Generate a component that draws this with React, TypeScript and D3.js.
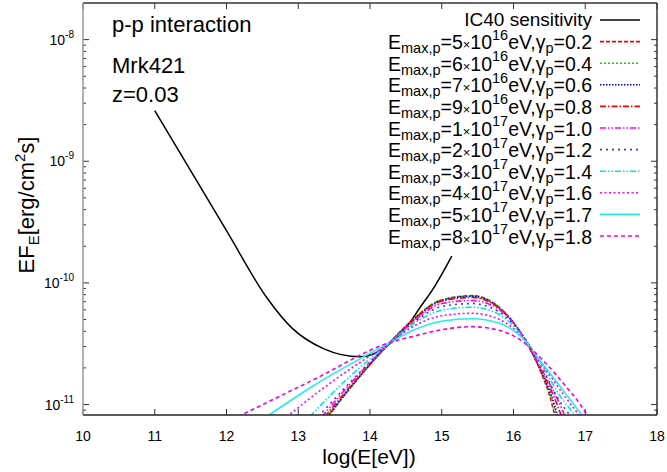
import React from 'react';
import * as d3 from 'd3';

const W = 667, H = 472;
const X0 = 83, X1 = 657, Y0 = 3, Y1 = 415;

const xTicks = [10, 11, 12, 13, 14, 15, 16, 17, 18];
const yTickExps = [-11, -10, -9, -8];

// [log10(E/eV), log10(EF_E)]
const ic40: [number, number][] = [[11.0,-8.584],[12.0,-9.57],[12.56,-10.12],[12.91,-10.37],[13.35,-10.54],[13.86,-10.607],[14.1,-10.57],[14.3,-10.49],[14.5,-10.37],[14.7,-10.20],[14.9,-10.03],[15.14,-9.78]];
const s02: [number, number][] = [[13.42,-11.10],[13.7,-10.88],[14.0,-10.67],[14.28,-10.49],[14.6,-10.30],[15.0,-10.14],[15.42,-10.105],[15.8,-10.20],[16.1,-10.41],[16.27,-10.57],[16.4,-10.76],[16.5,-10.92],[16.58,-11.10]];
const s04: [number, number][] = [[13.41,-11.10],[13.8,-10.81],[14.28,-10.49],[14.6,-10.30],[15.0,-10.14],[15.42,-10.11],[15.8,-10.20],[16.1,-10.41],[16.4,-10.755],[16.52,-10.93],[16.60,-11.10]];
const s06: [number, number][] = [[13.40,-11.10],[13.8,-10.81],[14.28,-10.49],[14.6,-10.305],[15.0,-10.145],[15.42,-10.11],[15.8,-10.205],[16.1,-10.41],[16.4,-10.75],[16.53,-10.93],[16.62,-11.10]];
const s08: [number, number][] = [[13.37,-11.10],[13.8,-10.80],[14.28,-10.49],[14.6,-10.31],[15.0,-10.15],[15.42,-10.12],[15.8,-10.21],[16.1,-10.41],[16.4,-10.74],[16.56,-10.93],[16.67,-11.10]];
const s10: [number, number][] = [[13.33,-11.10],[13.8,-10.78],[14.28,-10.49],[14.6,-10.32],[15.0,-10.17],[15.42,-10.145],[15.8,-10.22],[16.1,-10.41],[16.4,-10.72],[16.6,-10.94],[16.72,-11.10]];
const s12: [number, number][] = [[13.28,-11.10],[13.8,-10.77],[14.28,-10.49],[14.6,-10.33],[15.0,-10.195],[15.42,-10.17],[15.8,-10.24],[16.1,-10.41],[16.4,-10.70],[16.6,-10.93],[16.80,-11.10]];
const s14: [number, number][] = [[13.16,-11.10],[13.7,-10.78],[14.28,-10.49],[14.6,-10.34],[15.0,-10.225],[15.42,-10.20],[15.8,-10.26],[16.1,-10.42],[16.4,-10.68],[16.65,-10.93],[16.88,-11.10]];
const s16: [number, number][] = [[12.84,-11.10],[13.5,-10.80],[14.28,-10.49],[14.6,-10.36],[15.0,-10.27],[15.42,-10.25],[15.8,-10.30],[16.1,-10.43],[16.4,-10.67],[16.7,-10.92],[16.93,-11.10]];
const s17: [number, number][] = [[12.56,-11.10],[13.2,-10.85],[14.28,-10.49],[14.6,-10.39],[15.0,-10.315],[15.42,-10.295],[15.8,-10.33],[16.1,-10.44],[16.4,-10.66],[16.7,-10.89],[16.97,-11.10]];
const s18: [number, number][] = [[12.16,-11.10],[13.2,-10.80],[14.28,-10.49],[14.6,-10.44],[15.0,-10.385],[15.42,-10.36],[15.8,-10.39],[16.1,-10.47],[16.4,-10.63],[16.7,-10.83],[16.93,-11.00],[17.04,-11.10]];

const emaxMant = ['5', '6', '7', '9', '1', '2', '3', '4', '5', '8'];
const emaxExp = ['16', '16', '16', '16', '17', '17', '17', '17', '17', '17'];
const gammas = ['0.2', '0.4', '0.6', '0.8', '1.0', '1.2', '1.4', '1.6', '1.7', '1.8'];
const modelData = [s02, s04, s06, s08, s10, s12, s14, s16, s17, s18];

const styles = [
  { color: '#ff0000', dash: '4,2' },
  { color: '#00dd00', dash: '2,2' },
  { color: '#0000ff', dash: '1.5,1.5' },
  { color: '#ff0000', dash: '6,2,1.5,2' },
  { color: '#ff00ff', dash: '6,2,1.5,2,1.5,2' },
  { color: '#3333ff', dash: '2,4' },
  { color: '#00e5e5', dash: '6,2,1.5,2,1.5,2' },
  { color: '#ff00ff', dash: '2,2.5' },
  { color: '#22eeee', dash: '' },
  { color: '#ee00ee', dash: '4,3' },
];

const FONT = 'Liberation Sans, Arial, Helvetica, sans-serif';

export default function App() {
  const x = d3.scaleLinear().domain([10, 18]).range([X0, X1]);
  const y = d3.scaleLog().domain([8.2e-12, 2e-8]).range([Y1, Y0]);
  const line = d3.line<[number, number]>()
    .x(d => x(d[0]))
    .y(d => y(Math.pow(10, d[1])))
    .curve(d3.curveMonotoneX);

  const minor: number[] = [];
  for (let e = -12; e <= -8; e++) {
    for (let m = 2; m <= 9; m++) {
      const v = m * Math.pow(10, e);
      if (v > 8.2e-12 && v < 2e-8) minor.push(v);
    }
  }

  const legendX = 592;
  const rowY = (i: number) => 20 + i * 21.6;

  return (
    <svg width={W} height={H} style={{ position: 'absolute', left: 0, top: 0, background: '#fff' }} fontFamily={FONT}>
      <defs>
        <clipPath id="plot">
          <rect x={X0} y={Y0} width={X1 - X0} height={Y1 - Y0} />
        </clipPath>
      </defs>
      <rect x={0} y={0} width={W} height={H} fill="#fff" />

      {/* ticks */}
      {xTicks.map(t => (
        <g key={'xt' + t}>
          <line x1={x(t)} x2={x(t)} y1={Y1} y2={Y1 - 6} stroke="#333" strokeWidth={1} />
          <line x1={x(t)} x2={x(t)} y1={Y0} y2={Y0 + 6} stroke="#333" strokeWidth={1} />
          <text x={x(t)} y={441} fontSize={14} textAnchor="middle" fill="#000">{t}</text>
        </g>
      ))}
      {yTickExps.map(e => {
        const yy = y(Math.pow(10, e));
        return (
          <g key={'yt' + e}>
            <line x1={X0} x2={X0 + 6} y1={yy} y2={yy} stroke="#333" strokeWidth={1} />
            <line x1={X1} x2={X1 - 6} y1={yy} y2={yy} stroke="#333" strokeWidth={1} />
            <text x={74} y={yy + 5} fontSize={14} textAnchor="end" fill="#000">
              10<tspan dy={-7} fontSize={10}>{e}</tspan>
            </text>
          </g>
        );
      })}
      {minor.map((v, i) => (
        <g key={'mn' + i}>
          <line x1={X0} x2={X0 + 3} y1={y(v)} y2={y(v)} stroke="#333" strokeWidth={1} />
          <line x1={X1} x2={X1 - 3} y1={y(v)} y2={y(v)} stroke="#333" strokeWidth={1} />
        </g>
      ))}

      {/* curves */}
      <g clipPath="url(#plot)">
        <path d={line(ic40) || ''} fill="none" stroke="#000" strokeWidth={1.5} />
        {modelData.map((d, i) => (
          <path key={'c' + i} d={line(d) || ''} fill="none" stroke={styles[i].color} strokeWidth={1.6}
            strokeDasharray={styles[i].dash || undefined} />
        ))}
      </g>

      {/* frame */}
      <line x1={X0} x2={X1} y1={Y0} y2={Y0} stroke="#333" strokeWidth={1.5} />
      <line x1={X0} x2={X1} y1={Y1} y2={Y1} stroke="#222" strokeWidth={1.5} />
      <line x1={X1} x2={X1} y1={Y0} y2={Y1} stroke="#333" strokeWidth={1.5} />
      <line x1={X0} x2={X0} y1={Y0} y2={Y1} stroke="#999" strokeWidth={1.5} />

      {/* annotations */}
      <text x={112} y={32} fontSize={22} fill="#000">p-p interaction</text>
      <text x={112} y={73} fontSize={22} fill="#000">Mrk421</text>
      <text x={112} y={102} fontSize={22} fill="#000">z=0.03</text>

      {/* legend */}
      <text x={legendX} y={rowY(0) + 6} fontSize={19} textAnchor="end" fill="#000">IC40 sensitivity</text>
      <line x1={600} x2={640} y1={rowY(0)} y2={rowY(0)} stroke="#000" strokeWidth={1.5} />
      {gammas.map((g, i) => {
        const ry = rowY(i + 1);
        return (
          <g key={'lg' + i}>
            <text x={legendX} y={ry + 7.5} fontSize={19.5} textAnchor="end" fill="#000">
              E<tspan dy={4} fontSize={14.5}>max,p</tspan><tspan dy={-4}>={emaxMant[i]}</tspan><tspan fontSize={13}>×</tspan><tspan>10</tspan><tspan dy={-9.5} fontSize={14.5}>{emaxExp[i]}</tspan><tspan dy={9.5}>eV,γ</tspan><tspan dy={4} fontSize={14.5}>p</tspan><tspan dy={-4}>={g}</tspan>
            </text>
            <line x1={600} x2={640} y1={ry} y2={ry} stroke={styles[i].color} strokeWidth={1.6}
              strokeDasharray={styles[i].dash || undefined} />
          </g>
        );
      })}

      {/* axis titles */}
      <text x={369} y={464} fontSize={21} textAnchor="middle" fill="#000">log(E[eV])</text>
      <text transform="translate(34,205) rotate(-90)" fontSize={22} textAnchor="middle" fill="#000">
        EF<tspan dy={5} fontSize={15}>E</tspan><tspan dy={-5}>[erg/cm</tspan><tspan dy={-9} fontSize={15}>2</tspan><tspan dy={9}>s]</tspan>
      </text>
    </svg>
  );
}
